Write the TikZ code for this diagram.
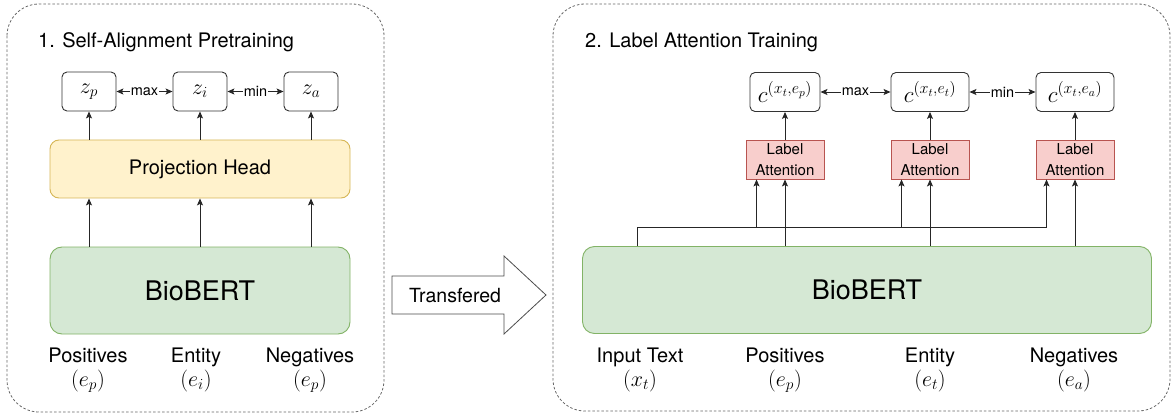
\RequirePackage{fix-cm}
\documentclass[tikz,border=0pt]{standalone}
\usepackage{amssymb}
\usepackage[no-math]{fontspec}
\setmainfont{TeX Gyre Heros}
\usetikzlibrary{arrows.meta}
\definecolor{projfill}{HTML}{FFF2CC}
\definecolor{projline}{HTML}{D6B656}
\definecolor{bertfill}{HTML}{D5E8D4}
\definecolor{bertline}{HTML}{82B366}
\definecolor{attfill}{HTML}{F8CECC}
\definecolor{attline}{HTML}{B85450}
\newcommand{\mathlbl}[1]{{\fontsize{22}{24}\selectfont$#1$}}
\tikzset{
  stage/.style={draw=black!60, dash pattern=on 2.5pt off 2pt, line width=0.8pt, rounded corners=32pt},
  heading/.style={anchor=base west, inner sep=0pt, font=\fontsize{20}{24}\selectfont},
  zbox/.style={draw=black!80, line width=0.9pt, rounded corners=5pt, fill=white, minimum width=54pt, minimum height=39pt, inner sep=0pt, font=\fontsize{22}{26}\selectfont},
  cbox/.style={zbox, minimum width=78pt, font=\fontsize{23}{26}\selectfont},
  projbox/.style={draw=projline, fill=projfill, line width=0.9pt, rounded corners=9pt, minimum width=300pt, minimum height=58pt, font=\fontsize{20}{24}\selectfont},
  bertbox/.style={draw=bertline, fill=bertfill, line width=0.9pt, rounded corners=12pt, minimum height=87pt, font=\fontsize{27}{32}\selectfont},
  attbox/.style={draw=attline, fill=attfill, line width=0.9pt, minimum width=78pt, minimum height=39pt, inner sep=0pt, align=center, font=\fontsize{15}{21.5}\selectfont},
  flow/.style={draw=black!85, line width=0.9pt, -{Stealth[length=7pt,width=6pt,inset=1.5pt]}},
  pair/.style={flow, {Stealth[length=7pt,width=6pt,inset=1.5pt]}-{Stealth[length=7pt,width=6pt,inset=1.5pt]}},
  tag/.style={fill=white, inner sep=1pt, font=\fontsize{14.5}{16}\selectfont},
  caption/.style={align=center, inner sep=0pt, font=\fontsize{20}{24}\selectfont},
  bigarrow/.style={draw=black!70, fill=white, line width=0.8pt},
}
\begin{document}
\begin{tikzpicture}[x=1pt, y=-1pt]
    \useasboundingbox (0,0) rectangle (1176,417);
    \draw[stage] (7,4) rectangle (384,412);
    \draw[stage] (553,4) rectangle (1170,411);
    \node[heading] (titleL) at (38,47.5) {1. Self-Alignment Pretraining};
    \node[heading] (titleR) at (585,47.5) {2. Label Attention Training};

    \node[zbox] (zp) at (89,91.5) {$z_p$};
    \node[zbox] (zi) at (200,91.5) {$z_i$};
    \node[zbox] (za) at (311,91.5) {$z_a$};
    \node[projbox] (proj) at (200,169) {Projection Head};
    \node[bertbox, minimum width=300pt] (bertL) at (200,290.5) {BioBERT};
    \foreach \n in {zp,zi,za} {
      \draw[flow] (bertL.north -| \n) -- (proj.south -| \n);
      \draw[flow] (proj.north -| \n) -- (\n);
    }
    \draw[pair] (zp) -- node[tag] {max} (zi);
    \draw[pair] (zi) -- node[tag] {min} (za);
    \node[caption] (posL) at (88,370) {Positives\\\mathlbl{(e_p)}};
    \node[caption] (entL) at (196,370) {Entity\\\mathlbl{(e_i)}};
    \node[caption] (negL) at (310,370) {Negatives\\\mathlbl{(e_p)}};

    \draw[bigarrow] (392,276) -- (504,276) -- (504,256) -- (546,295) -- (504,334) -- (504,314) -- (392,314) -- cycle;
    \node[font=\fontsize{19.5}{22}\selectfont] (moved) at (455,296) {Transfered};

    \node[cbox, minimum width=70pt] (cp) at (785,92) {$c^{(x_t,e_p)}$};
    \node[cbox] (ct) at (930,92) {$c^{(x_t,e_t)}$};
    \node[cbox] (ca) at (1075,92) {$c^{(x_t,e_a)}$};
    \node[attbox] (attp) at (785,159.5) {Label\\Attention};
    \node[attbox] (attt) at (930,159.5) {Label\\Attention};
    \node[attbox] (atta) at (1075,159.5) {Label\\Attention};
    \node[bertbox, minimum width=569pt] (bertR) at (867,290) {BioBERT};
    \draw[pair] (cp) -- node[tag] {max} (ct);
    \draw[pair] (ct) -- node[tag] {min} (ca);
    \coordinate (bus) at (637,227);
    \foreach \n/\c in {attp/cp,attt/ct,atta/ca} {
      \draw[flow] (\n) -- (\c);
      \draw[flow] (bertR.north -| \n) -- (\n);
      \coordinate (\n-in) at ([xshift=-28.5pt]\n.south);
    }
    \draw[flow] (bertR.north -| bus) -- (bus) -| (atta-in);
    \draw[flow] (bus -| attp-in) -- (attp-in);
    \draw[flow] (bus -| attt-in) -- (attt-in);
    \node[caption] (txtR) at (640,370) {Input Text\\\mathlbl{(x_t)}};
    \node[caption] (posR) at (785,370) {Positives\\\mathlbl{(e_p)}};
    \node[caption] (entR) at (930,370) {Entity\\\mathlbl{(e_t)}};
    \node[caption] (negR) at (1074,370) {Negatives\\\mathlbl{(e_a)}};
\end{tikzpicture}
\end{document}
